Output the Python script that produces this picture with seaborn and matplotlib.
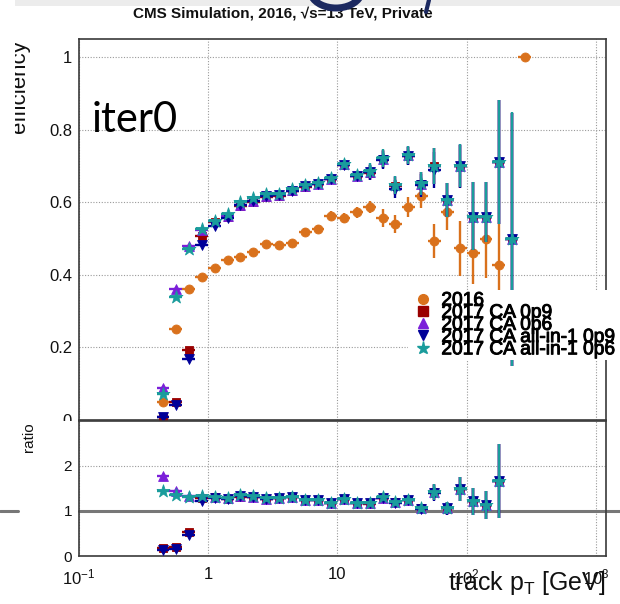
import numpy as np
import matplotlib
matplotlib.use("Agg")
import matplotlib.pyplot as plt
import matplotlib.patheffects as pe
import seaborn as sns
from matplotlib.ticker import (MultipleLocator, LogLocator, FixedLocator,
                               FixedFormatter, FuncFormatter, NullFormatter)
from matplotlib.lines import Line2D
from matplotlib.patches import Rectangle, Arc

nan = float("nan")

# ---------------- data ----------------
bin_edges = [0.398, 0.501, 0.631, 0.794, 1.0, 1.26, 1.58, 2.0, 2.51, 3.16,
             3.98, 5.01, 6.31, 7.94, 10.0, 12.6, 15.8, 20.0, 25.1, 31.6,
             39.8, 50.1, 63.1, 79.4, 100.0, 126.0, 158.0, 200.0, 251.0, 316.0]

series_labels = ["2016", "2017 CA 0p9", "2017 CA 0p6",
                 "2017 CA all-in-1 0p9", "2017 CA all-in-1 0p6"]

eff_2016 = [0.050, 0.252, 0.360, 0.394, 0.420, 0.440, 0.449, 0.463, 0.486, 0.482,
            0.487, 0.519, 0.527, 0.564, 0.557, 0.573, 0.587, 0.557, 0.541, 0.588,
            0.619, 0.494, 0.573, 0.474, 0.460, 0.499, 0.428, nan, 1.0]
err_2016_lo = [0.004, 0.006, 0.006, 0.006, 0.006, 0.007, 0.007, 0.008, 0.008, 0.009,
               0.010, 0.010, 0.011, 0.012, 0.013, 0.015, 0.016, 0.025, 0.024, 0.028,
               0.035, 0.046, 0.048, 0.076, 0.085, 0.107, 0.130, nan, 0.0]
err_2016_hi = [0.004, 0.006, 0.006, 0.006, 0.006, 0.007, 0.007, 0.008, 0.008, 0.009,
               0.010, 0.010, 0.011, 0.012, 0.013, 0.015, 0.016, 0.025, 0.024, 0.028,
               0.035, 0.046, 0.048, 0.076, 0.085, 0.107, 0.113, nan, 0.0]

eff_ca_0p9 = [0.009, 0.049, 0.192, 0.508, 0.546, 0.559, 0.589, 0.601, 0.616, 0.619,
              0.631, 0.644, 0.650, 0.664, 0.704, 0.672, 0.682, 0.720, 0.646, 0.729,
              0.652, 0.700, 0.606, 0.700, 0.559, 0.559, 0.712, 0.498, nan]
eff_ca_0p6 = [0.089, 0.362, 0.479, 0.525, 0.548, 0.563, 0.593, 0.605, 0.618, 0.621,
              0.633, 0.645, 0.651, 0.665, 0.705, 0.673, 0.685, 0.721, 0.647, 0.730,
              0.652, 0.700, 0.607, 0.701, 0.559, 0.559, 0.712, 0.498, nan]
eff_all_0p9 = [0.007, 0.041, 0.167, 0.484, 0.536, 0.556, 0.592, 0.604, 0.617, 0.621,
               0.632, 0.645, 0.651, 0.665, 0.704, 0.672, 0.683, 0.718, 0.638, 0.728,
               0.647, 0.690, 0.606, 0.700, 0.559, 0.559, 0.712, 0.498, nan]
eff_all_0p6 = [0.072, 0.338, 0.472, 0.526, 0.550, 0.569, 0.602, 0.612, 0.622, 0.624,
               0.636, 0.648, 0.654, 0.667, 0.705, 0.675, 0.688, 0.723, 0.647, 0.731,
               0.653, 0.700, 0.608, 0.701, 0.559, 0.559, 0.712, 0.499, nan]
err_2017_lo = [0.004, 0.004, 0.004, 0.004, 0.004, 0.004, 0.004, 0.004, 0.004, 0.004,
               0.007, 0.007, 0.007, 0.007, 0.007, 0.007, 0.020, 0.025, 0.025, 0.025,
               0.032, 0.050, 0.047, 0.059, 0.089, 0.069, 0.172, 0.350, nan]
err_2017_hi = [0.004, 0.004, 0.004, 0.004, 0.004, 0.004, 0.004, 0.004, 0.004, 0.004,
               0.007, 0.007, 0.007, 0.007, 0.007, 0.007, 0.020, 0.025, 0.025, 0.025,
               0.032, 0.050, 0.047, 0.059, 0.097, 0.097, 0.170, 0.350, nan]
ratio_err = [0.02, 0.02, 0.02, 0.02, 0.02, 0.02, 0.02, 0.02, 0.02, 0.02,
             0.02, 0.02, 0.02, 0.02, 0.02, 0.02, 0.05, 0.06, 0.07, 0.07,
             0.08, 0.17, 0.14, 0.27, 0.30, 0.31, 0.82, nan, nan]

xtick_values = [0.1, 1, 10, 100, 1000]
xtick_labels = [r"$10^{-1}$", "1", "10", r"$10^{2}$", r"$10^{3}$"]
ratio_ticks = [0, 1, 2]

# ---------------- style ----------------
sns.set_style("white")
plt.rcParams["font.family"] = ["Liberation Sans", "DejaVu Sans"]
plt.rcParams["mathtext.fontset"] = "custom"
plt.rcParams["mathtext.rm"] = "Liberation Sans"
plt.rcParams["mathtext.it"] = "Liberation Sans:italic"
plt.rcParams["mathtext.bf"] = "Liberation Sans:bold"

colors = ["#d9711c", "#990000", "#7b1fd9", "#000099", "#1a9c9c"]
markers = ["o", "s", "^", "v", "*"]
msizes = [42, 38, 50, 50, 95]
leg_ms = [7, 6.5, 7.5, 7.5, 9.5]

W, H = 620, 604
fig = plt.figure(figsize=(W / 100, H / 100), dpi=100)


def fx(px):
    return px / W


def fy(py):
    return 1 - py / H


ax_top = fig.add_axes([fx(79), fy(420), 527 / W, (420 - 39.3) / H])
ax_r = fig.add_axes([fx(79), fy(556), 527 / W, (556 - 420.5) / H])
ax_top.set_zorder(0)
ax_r.set_zorder(1)

lo = np.array(bin_edges[:-1])
hi = np.array(bin_edges[1:])
xc = np.sqrt(lo * hi)
xerr_all = np.vstack([xc - lo, hi - xc])


def draw_series(ax, y, elo, ehi, color, marker, size, z):
    y = np.asarray(y, float)
    m = ~np.isnan(y)
    yerr = np.vstack([np.asarray(elo, float)[m], np.asarray(ehi, float)[m]])
    ax.errorbar(xc[m], y[m], xerr=xerr_all[:, m], yerr=yerr, fmt="none",
                ecolor=color, elinewidth=1.7, capsize=0, zorder=z)
    sns.scatterplot(x=xc[m], y=y[m], ax=ax, marker=marker, color=color, s=size,
                    edgecolor=color, linewidth=0.6, zorder=z + 0.5, legend=False)


for ax in (ax_top, ax_r):
    ax.set_xscale("log")

effs = [eff_2016, eff_ca_0p9, eff_ca_0p6, eff_all_0p9, eff_all_0p6]
errs_lo = [err_2016_lo] + [err_2017_lo] * 4
errs_hi = [err_2016_hi] + [err_2017_hi] * 4
for i in range(5):
    draw_series(ax_top, effs[i], errs_lo[i], errs_hi[i], colors[i], markers[i],
                msizes[i], 2 + i)

base = np.array(eff_2016, float)
for i in range(1, 5):
    ratio = np.array(effs[i], float) / base
    draw_series(ax_r, ratio, ratio_err, ratio_err, colors[i], markers[i],
                msizes[i], 2 + i)

# ---------------- axes cosmetics ----------------
grid_kw = dict(color="#9a9a9a", lw=0.8, ls=(0, (1, 1.5)))
for ax in (ax_top, ax_r):
    ax.set_xlim(0.1, 1200)
    ax.xaxis.set_major_locator(FixedLocator(xtick_values))
    ax.xaxis.set_minor_locator(LogLocator(base=10, subs=np.arange(2, 10), numticks=20))
    ax.xaxis.set_minor_formatter(NullFormatter())
    ax.grid(True, which="major", **grid_kw)
    ax.set_axisbelow(True)
    for s in ax.spines.values():
        s.set_color("#3a3a3a")
        s.set_linewidth(1.2)
    ax.set_xlabel("")
    ax.set_ylabel("")

ax_top.set_ylim(0, 1.05)
ax_top.yaxis.set_major_locator(MultipleLocator(0.2))
ax_top.yaxis.set_minor_locator(MultipleLocator(0.05))
ax_top.yaxis.set_major_formatter(FuncFormatter(lambda v, p: f"{v:g}"))
ax_top.xaxis.set_major_formatter(NullFormatter())
ax_top.tick_params(axis="y", which="major", direction="in", length=13, width=0.9,
                   color="#444444", labelsize=12, pad=5, labelcolor="#111111")
ax_top.tick_params(axis="y", which="minor", direction="in", length=5.8, width=0.9,
                   color="#444444")
ax_top.tick_params(axis="x", which="major", direction="in", length=7.2, width=0.9,
                   color="#444444", labelbottom=False)
ax_top.tick_params(axis="x", which="minor", direction="in", length=3.6, width=0.9,
                   color="#444444")

ax_r.set_ylim(0, 3)
ax_r.yaxis.set_major_locator(FixedLocator(ratio_ticks))
ax_r.yaxis.set_minor_locator(MultipleLocator(0.5))
ax_r.yaxis.set_major_formatter(FuncFormatter(lambda v, p: f"{v:g}"))
ax_r.xaxis.set_major_formatter(FixedFormatter(xtick_labels))
ax_r.tick_params(axis="y", which="major", direction="in", length=11.5, width=0.9,
                 color="#444444", labelsize=11, pad=5, labelcolor="#111111")
ax_r.tick_params(axis="y", which="minor", direction="in", length=5, width=0.9,
                 color="#444444")
ax_r.tick_params(axis="x", which="major", direction="in", length=4.5, width=0.9,
                 color="#444444", labelsize=12, pad=8, labelcolor="#111111")
ax_r.tick_params(axis="x", which="minor", direction="in", length=2.5, width=0.9,
                 color="#444444")
ax_r.axhline(1, color="#777777", lw=2.2, zorder=1.5, xmin=0,
             xmax=(620 - 79) / 527, clip_on=False)

# ---------------- legend ----------------
handles = [Line2D([], [], ls="none", marker=markers[i], color=colors[i],
                  markeredgecolor=colors[i], markersize=leg_ms[i])
           for i in range(5)]
leg = ax_top.legend(handles, series_labels, loc="upper left",
                    bbox_to_anchor=(fx(408), fy(290)), bbox_transform=fig.transFigure,
                    borderaxespad=0, frameon=True, fancybox=False, edgecolor="none",
                    facecolor="white", framealpha=1, labelspacing=-0.27,
                    handlelength=1.4, handletextpad=0.24, borderpad=0.1,
                    prop={"size": 13.8}, labelcolor="black")
for t in leg.get_texts():
    t.set_path_effects([pe.withStroke(linewidth=0.7, foreground="black")])
leg.set_zorder(20)

# ---------------- texts & decorations ----------------
fig.text(fx(282.5), fy(14), "CMS Simulation, 2016, \u221as=13 TeV, Private",
         ha="center", va="center", fontsize=11, fontweight="bold", color="#111111",
         zorder=3)
fig.text(fx(92), fy(132), "iter0", family=["Lato", "DejaVu Sans"], fontsize=30,
         ha="left", va="baseline", color="black", zorder=3)
fig.text(fx(25), fy(40), "efficiency", rotation=90, rotation_mode="anchor",
         ha="right", va="baseline", fontsize=16, color="#111111", zorder=0.3)
fig.text(fx(33), fy(437), "ratio", rotation=90, rotation_mode="anchor",
         ha="center", va="baseline", fontsize=11, color="#111111", zorder=3)
fig.text(fx(606), fy(590), r"track p$_\mathrm{T}$ [GeV]", ha="right", va="baseline",
         fontsize=18, color="#111111", zorder=3)

# white slide margin, hidden lower half of the top panel "0" label
fig.add_artist(Rectangle((fx(15), 0), 64 / W, fy(421), transform=fig.transFigure,
                         facecolor="white", edgecolor="none", zorder=0.5))
fig.add_artist(Rectangle((0, 0), fx(15), 1, transform=fig.transFigure,
                         facecolor="white", edgecolor="none", zorder=0.6))
fig.add_artist(Rectangle((fx(15), fy(6)), 605 / W, 6 / H, transform=fig.transFigure,
                         facecolor="#ececec", edgecolor="none", zorder=0.7))
fig.add_artist(Line2D([0, fx(18)], [fy(511), fy(511)], transform=fig.transFigure,
                      color="#777777", lw=2.2, zorder=2))
fig.add_artist(Arc((fx(336), fy(-10)), 52 / W, 36 / H, theta1=195, theta2=345,
                   transform=fig.transFigure, color="#1c2960", lw=5, zorder=4))
fig.add_artist(Line2D([fx(429), fx(426)], [fy(0), fy(12)], transform=fig.transFigure,
                      color="#1c2960", lw=3, zorder=4))

fig.savefig("out.png", dpi=100)
